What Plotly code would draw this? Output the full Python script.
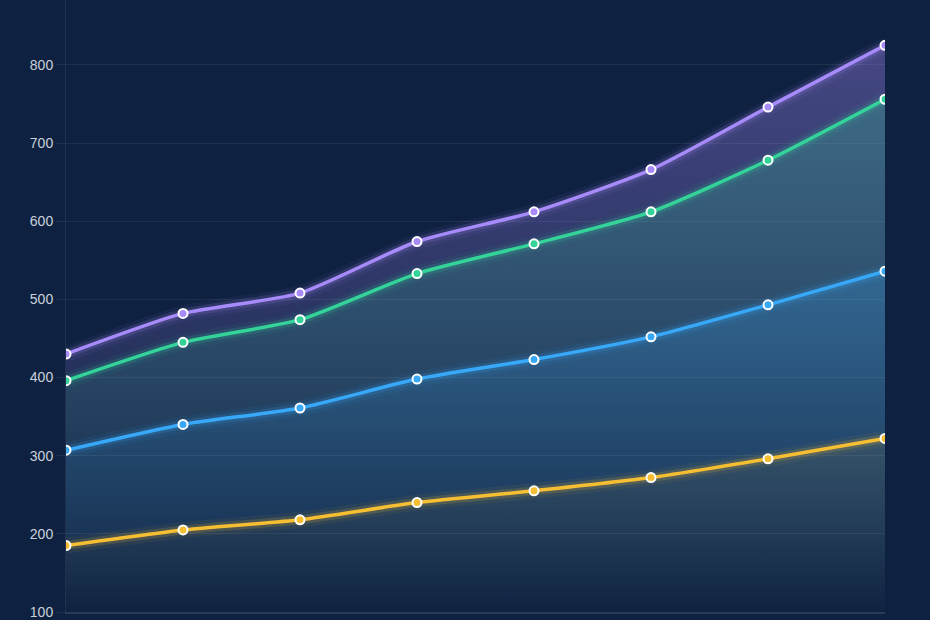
import plotly.graph_objects as go

# x positions (categories are not visible in the reference crop)
periods = ["P1", "P2", "P3", "P4", "P5", "P6", "P7", "P8"]

# series values
purple_vals = [430, 482, 508, 574, 612, 666, 746, 825]
green_vals = [396, 445, 474, 533, 571, 612, 678, 756]
blue_vals = [307, 340, 361, 398, 423, 452, 493, 536]
yellow_vals = [185, 205, 218, 240, 255, 272, 296, 322]

y_ticks = [100, 200, 300, 400, 500, 600, 700, 800]

# name, values, colour, top alpha of the area fill
series = [
    ("Purple", purple_vals, (167, 139, 250), 0.36),
    ("Green", green_vals, (52, 211, 153), 0.26),
    ("Blue", blue_vals, (56, 168, 248), 0.24),
    ("Yellow", yellow_vals, (246, 190, 50), 0.08),
]

BG = "#0e2140"

def rgba(c, a):
    return "rgba(%d,%d,%d,%s)" % (c[0], c[1], c[2], a)

fig = go.Figure()

# area fills, drawn back to front
for name, vals, col, top_a in series:
    fig.add_trace(go.Scatter(
        x=periods, y=vals, mode="none", fill="tozeroy",
        line=dict(shape="spline", smoothing=0.6),
        fillgradient=dict(type="vertical", start=100, stop=max(vals),
                          colorscale=[[0, rgba(col, 0.0)], [1, rgba(col, top_a)]]),
        showlegend=False, hoverinfo="skip",
    ))

# glow under the lines
for name, vals, col, top_a in series:
    for w, a in [(16, 0.06), (9, 0.16)]:
        fig.add_trace(go.Scatter(
            x=periods, y=vals, mode="lines",
            line=dict(color=rgba(col, a), width=w, shape="spline", smoothing=0.6),
            showlegend=False, hoverinfo="skip",
        ))

# lines and markers
for name, vals, col, top_a in series:
    fig.add_trace(go.Scatter(
        x=periods, y=vals, mode="lines+markers", name=name,
        line=dict(color=rgba(col, 1), width=3.5, shape="spline", smoothing=0.6),
        marker=dict(size=9, color=rgba(col, 1), line=dict(color="white", width=2)),
        showlegend=False,
    ))

fig.update_layout(
    width=930, height=620,
    margin=dict(l=66, r=45, t=0, b=4),
    paper_bgcolor=BG,
    plot_bgcolor=BG,
    font=dict(family="Liberation Sans, Arial, sans-serif", color="#c9d1dc", size=14),
    xaxis=dict(range=[0, 7], showticklabels=False, showgrid=False, zeroline=False,
               showline=True, linecolor="rgba(255,255,255,0.12)", linewidth=1.5,
               ticks=""),
    yaxis=dict(range=[100, 883], tickvals=y_ticks, showgrid=True,
               gridcolor="rgba(255,255,255,0.07)", zeroline=False,
               showline=True, linecolor="rgba(255,255,255,0.08)",
               ticks="outside", ticklen=9, tickcolor="rgba(255,255,255,0.08)",
               ticklabeloverflow="allow"),
)

# drop the page margin so the chart fills the window
fig.write_html("out.html", config={"displayModeBar": False},
               post_script="document.body.style.margin='0';"
                           "document.body.style.background='" + BG + "';")
